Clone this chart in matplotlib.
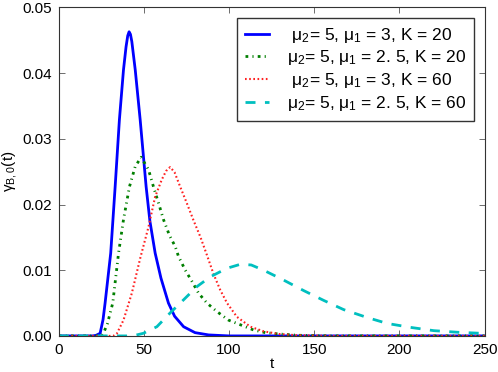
import matplotlib
matplotlib.use("Agg")
import matplotlib.pyplot as plt
from matplotlib.ticker import FormatStrFormatter

plt.rcParams['font.family'] = ['Liberation Sans', 'DejaVu Sans']
plt.rcParams['mathtext.fontset'] = 'custom'
plt.rcParams['mathtext.rm'] = 'Liberation Sans'
plt.rcParams['mathtext.it'] = 'Liberation Sans'
plt.rcParams['mathtext.default'] = 'regular'

# ---- data ----
blue_t = [0, 20, 22, 24.3, 26, 27.2, 30.5, 33.1, 35.6, 38, 39.5, 40.5, 41.3, 42.1, 42.9, 44.9, 47.8,
          51.3, 53.5, 56.6, 60, 64.4, 68, 73.3, 80, 88, 100, 250]
blue_v = [0, 0, 0.0001, 0.0004, 0.0025, 0.005, 0.0126, 0.0227, 0.0329, 0.0405, 0.0440, 0.0457, 0.0463,
          0.0459, 0.0448, 0.0405, 0.0329, 0.0227, 0.0175, 0.0126, 0.0088, 0.005, 0.0030, 0.0014,
          0.0005, 0.00015, 0, 0]

green_t = [0, 25, 26.2, 28.5, 31.7, 35.1, 38, 41.5, 44.9, 48.4, 52.7, 55.5, 58.6, 61.5, 65, 68.4,
           70.3, 74.3, 78.2, 82.1, 87, 92.9, 99.7, 106.6, 114.4, 121.3, 129, 140, 160, 250]
green_v = [0, 0, 0.0004, 0.0018, 0.005, 0.0126, 0.0177, 0.0227, 0.0258, 0.0272, 0.0253, 0.0228,
           0.0202, 0.0177, 0.0153, 0.0136, 0.0121, 0.0100, 0.0083, 0.0065, 0.0050, 0.0037, 0.0024,
           0.0017, 0.0009, 0.0005, 0.0003, 0.0001, 0, 0]

red_t = [0, 32, 34, 38, 42.9, 47.8, 52.7, 56.6, 60.5, 63, 65.4, 68, 71.3, 75.2, 79.1, 83.1, 87,
         90.9, 94.8, 98.8, 104.6, 112.5, 120.3, 129, 140, 160, 250]
red_v = [0, 0, 0.0003, 0.0024, 0.0065, 0.0118, 0.0166, 0.0212, 0.0238, 0.0251, 0.0257, 0.0249,
         0.0227, 0.0202, 0.0176, 0.0151, 0.0123, 0.0094, 0.0070, 0.0050, 0.0029, 0.0014, 0.0007,
         0.0003, 0.0001, 0, 0]

cyan_t = [0, 40, 45, 49.7, 57.6, 65.4, 73.3, 81.1, 89, 98.8, 106.6, 113, 120.3, 132, 143.8, 155.6,
          167.3, 181.1, 192.8, 206.5, 220.2, 234, 247.7, 250]
cyan_v = [0, 0, 0.0001, 0.0004, 0.0014, 0.0035, 0.0055, 0.0075, 0.0090, 0.0103, 0.0109, 0.0108,
          0.0100, 0.0085, 0.0069, 0.0054, 0.0040, 0.0028, 0.0019, 0.0013, 0.0008, 0.00056, 0.0004,
          0.00038]

labels = [r' $\mu_2$= 5, $\mu_1$ = 3, K = 20',
          r'$\mu_2$= 5, $\mu_1$ = 2. 5, K = 20',
          r' $\mu_2$= 5, $\mu_1$ = 3, K = 60',
          r'$\mu_2$= 5, $\mu_1$ = 2. 5, K = 60']
x_ticks = [0, 50, 100, 150, 200, 250]
y_ticks = [0.00, 0.01, 0.02, 0.03, 0.04, 0.05]

fig = plt.figure(figsize=(4.98, 3.72), dpi=100)
ax = fig.add_axes([0.118, 0.097, 0.855, 0.883])

ax.plot(blue_t, blue_v, color='#0000ff', lw=2.0, ls='-', label=labels[0])
ax.plot(green_t, green_v, color='#007f00', lw=2.0, ls=(0, (1.0, 1.5, 0.4, 1.5)), label=labels[1])
ax.plot(red_t, red_v, color='#ff2020', lw=1.5, ls=(0, (0.8, 1.2)), label=labels[2])
ax.plot(cyan_t, cyan_v, color='#00bfbf', lw=2.0, ls=(0, (3.6, 3.4)), label=labels[3])

ax.set_xlim(0, 250)
ax.set_ylim(0, 0.05)
ax.set_xticks(x_ticks)
ax.set_yticks(y_ticks)
ax.yaxis.set_major_formatter(FormatStrFormatter('%.2f'))
ax.tick_params(direction='in', top=True, right=True, length=4, width=0.6,
               labelsize=11, color='#555555', pad=5)
for s in ax.spines.values():
    s.set_color('#333333')
    s.set_linewidth(0.8)

ax.set_xlabel('t', fontsize=11, labelpad=0)
ax.set_ylabel(r'$\gamma_{B,0}$(t)', fontsize=11, labelpad=2)

leg = ax.legend(loc='upper right', fontsize=12.5, handlelength=1.4, frameon=True,
                fancybox=False, edgecolor='black', borderpad=0.45, labelspacing=0.22,
                handletextpad=1.0, borderaxespad=0.6)
leg.get_frame().set_linewidth(1.0)

fig.savefig('out.png', dpi=100)
